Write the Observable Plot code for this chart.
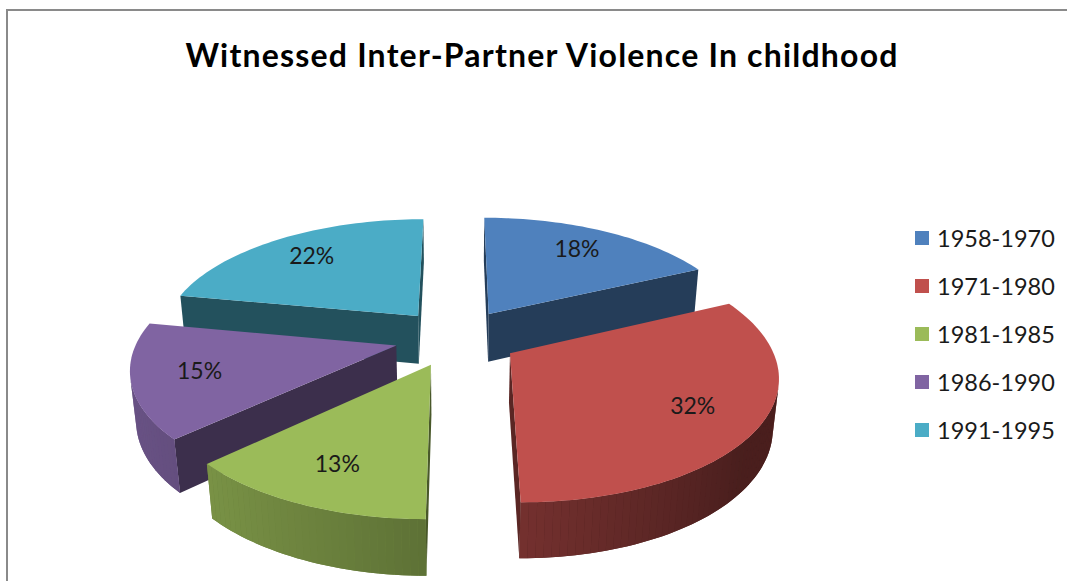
<!DOCTYPE html>
<html><head><meta charset="utf-8">
<script src="https://cdn.jsdelivr.net/npm/d3@7"></script>
<script src="https://cdn.jsdelivr.net/npm/@observablehq/plot@0.6"></script>
<style>
html,body{margin:0;padding:0;background:#fff;overflow:hidden;}
#wrap{position:relative;width:1067px;height:581px;overflow:hidden;}
#frame{position:absolute;left:6px;top:9px;width:1100px;height:620px;border-top:2px solid #8a8a8a;border-left:2px solid #8a8a8a;box-sizing:border-box;}
#title{position:absolute;left:0;width:1084px;top:35px;text-align:center;font:bold 32px Lato;letter-spacing:1.2px;color:#000;white-space:nowrap;}
#legend{position:absolute;left:915px;top:214px;font:23.5px Lato;color:#1a1a1a;}
.item{display:flex;align-items:center;height:47.9px;white-space:nowrap;}
.sw{width:14px;height:14px;margin-right:8px;flex:none;}
#chart{position:absolute;left:0;top:0;}
</style></head>
<body>
<div id="wrap">
  <div id="frame"></div>
  <div id="chart"></div>
  <div id="title"></div>
  <div id="legend"></div>
</div>
<script>
const titleText = "Witnessed Inter-Partner Violence In childhood";
const categories = ["1958-1970", "1971-1980", "1981-1985", "1986-1990", "1991-1995"];
const shares = [18, 32, 13, 15, 22];
const pctLabels = ["18%", "32%", "13%", "15%", "22%"];
const palette = ["#4f81bd", "#c0504d", "#9bbb59", "#8064a2", "#4bacc6"];

const W = 1067, H = 581;
const CX = 456, CY = 337, R = 258, EXPL = 62, THICK = 56;
const TILT = 27.5 * Math.PI / 180, DIST = 1400;
const camera = [0, DIST * Math.sin(TILT), DIST * Math.cos(TILT)];

function project([X, Y, Z]) {
  const depth = Z * Math.cos(TILT) + Y * Math.sin(TILT);
  const up = Y * Math.cos(TILT) - Z * Math.sin(TILT);
  const s = DIST / (DIST - depth);
  return [CX + X * s, CY - up * s];
}
function shade(hex, k) {
  const c = d3.rgb(hex);
  return d3.rgb(c.r * k, c.g * k, c.b * k).formatHex();
}
const arcs = d3.pie().sort(null).value(d => d)(shares);
const slices = arcs.map((a, i) => {
  const mid = (a.startAngle + a.endAngle) / 2;
  const ox = EXPL * Math.sin(mid), oz = -EXPL * Math.cos(mid);
  return {i, a0: a.startAngle, a1: a.endAngle, mid, ox, oz, depth: oz * Math.cos(TILT)};
});
const pt = (s, ang, r, y) => [s.ox + r * Math.sin(ang), y, s.oz - r * Math.cos(ang)];
const dir = ang => [Math.sin(ang), 0, -Math.cos(ang)];
function visible(n, p) {
  return n[0] * (camera[0] - p[0]) + n[1] * (camera[1] - p[1]) + n[2] * (camera[2] - p[2]) > 0;
}
const faces = []; let fid = 0;
function addFace(poly, color) {
  const id = fid++;
  poly.forEach(p => { const [x, y] = project(p); faces.push({face: id, x, y, color}); });
}
const LIGHT = [-0.98, 0, 0.2];
const sideShade = ang => { const nv = dir(ang); return Math.max(0.38, 0.55 + 0.27 * (nv[0] * LIGHT[0] + nv[2] * LIGHT[2])); };
for (const s of [...slices].sort((a, b) => a.depth - b.depth)) {
  const base = palette[s.i];
  const n = Math.max(2, Math.ceil((s.a1 - s.a0) / (1.5 * Math.PI / 180)));
  const angs = d3.range(n + 1).map(k => s.a0 + (s.a1 - s.a0) * k / n);
  const apexT = [s.ox, 0, s.oz], apexB = [s.ox, -THICK, s.oz];
  // radial cut faces
  for (const [ang, nAng] of [[s.a0, s.a0 - Math.PI / 2], [s.a1, s.a1 + Math.PI / 2]]) {
    const nv = dir(nAng);
    const pT = pt(s, ang, R, 0), pB = pt(s, ang, R, -THICK);
    const c = [(apexT[0] + pT[0]) / 2, -THICK / 2, (apexT[2] + pT[2]) / 2];
    if (visible(nv, c)) addFace([apexT, pT, pB, apexB], shade(base, 0.47));
  }
  // outer curved surface: visible strips over an underlay that hides seams
  const vis = d3.range(n).filter(k => {
    const m = (angs[k] + angs[k + 1]) / 2;
    return visible(dir(m), pt(s, m, R, -THICK / 2));
  });
  if (vis.length) {
    const k0 = vis[0], k1 = vis[vis.length - 1] + 1;
    const span = angs.slice(k0, k1 + 1);
    const midA = (span[0] + span[span.length - 1]) / 2;
    addFace([...span.map(a => pt(s, a, R, 0)), ...span.slice().reverse().map(a => pt(s, a, R, -THICK))], shade(base, sideShade(midA)));
    for (const k of vis) {
      const m = (angs[k] + angs[k + 1]) / 2;
      addFace([pt(s, angs[k], R, 0), pt(s, angs[k + 1], R, 0), pt(s, angs[k + 1], R, -THICK), pt(s, angs[k], R, -THICK)], shade(base, sideShade(m)));
    }
  }
  addFace([apexT, ...angs.map(a => pt(s, a, R, 0))], base);
}
const labelRows = slices.map(s => {
  const [x, y] = project(pt(s, s.mid, 0.75 * R, 0));
  return {x, y, text: pctLabels[s.i]};
});

const chart = Plot.plot({
  width: W, height: H, margin: 0,
  x: {domain: [0, W], range: [0, W], axis: null},
  y: {domain: [0, H], range: [0, H], axis: null},
  color: {type: "identity"},
  style: {background: "transparent"},
  marks: [
    Plot.line(faces, {x: "x", y: "y", z: "face", fill: "color", stroke: "none", curve: "linear-closed"}),
    Plot.text(labelRows, {x: "x", y: "y", text: "text", fontSize: 23, fontFamily: "Lato", fill: "#1a1a1a"})
  ]
});
document.getElementById("chart").appendChild(chart);
document.getElementById("title").textContent = titleText;
const legend = document.getElementById("legend");
categories.forEach((c, i) => {
  const row = document.createElement("div"); row.className = "item";
  const sw = document.createElement("span"); sw.className = "sw"; sw.style.background = palette[i];
  const tx = document.createElement("span"); tx.textContent = c;
  row.appendChild(sw); row.appendChild(tx); legend.appendChild(row);
});
</script>
</body></html>
